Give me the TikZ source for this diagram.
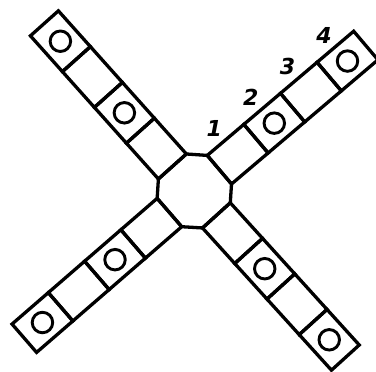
\documentclass[tikz,border=0pt]{standalone}
\usepackage{fontspec}
\newfontfamily\numfont{DejaVu Sans}
\usetikzlibrary{calc}

\begin{document}
\begin{tikzpicture}[
    x=1pt, y=1pt,
    cell/.style={draw, rectangle, line width=3.3pt, minimum width=48pt,
                 minimum height=37.5pt, inner sep=0pt, outer sep=0pt},
    ring/.style={draw, circle, line width=2.9pt, minimum size=20.5pt, inner sep=0pt},
    num/.style={font=\fontsize{22}{22}\selectfont\numfont\bfseries\itshape, inner sep=0pt},
]
    \useasboundingbox (0,0) rectangle (376,372);
    \coordinate (hub) at (194.3,181);

    %==================== four arms of cells ====================
    \foreach \armname/\ang in {ur/40.3, ul/131.8, ll/220.9, lr/312.2} {
        \foreach \i in {1,...,4} {
            \node[cell, rotate=\ang] (\armname\i) at ($(hub)+(\ang:{8.9+48*\i})$) {};
        }
        \node[ring] (\armname o2) at (\armname2) {};
        \node[ring] (\armname o4) at (\armname4) {};
    }

    %==================== octagon in the middle ====================
    \draw[line width=3.3pt] (ur1.south west) -- (ur1.north west) -- (ul1.south west)
        -- (ul1.north west) -- (ll1.south west) -- (ll1.north west)
        -- (lr1.south west) -- (lr1.north west) -- cycle;

    %==================== numbers along the upper right arm ====================
    \foreach \i in {1,...,4} {
        \node[num] (lab\i) at ($(ur\i.north west)+(7,27)$) {\i};
    }

\end{tikzpicture}
\end{document}
